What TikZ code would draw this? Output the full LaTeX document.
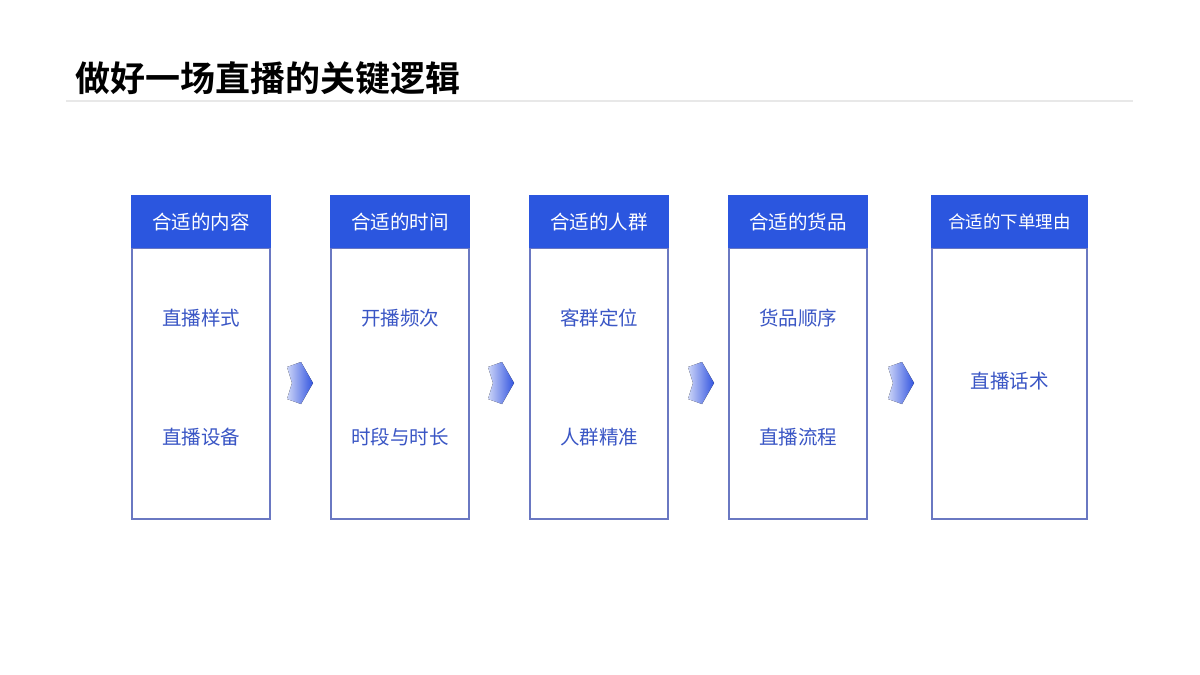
\documentclass[tikz,border=0pt]{standalone}
\usepackage{fontspec}
\newfontfamily\cjk{Noto Sans CJK SC}
\newfontfamily\cjkb{Noto Sans CJK SC Bold}
\definecolor{hdr}{HTML}{2B56DF}
\definecolor{brd}{HTML}{6A78C2}
\definecolor{bodytxt}{HTML}{3A56C5}
\definecolor{arr}{HTML}{3355E0}
\begin{document}
\begin{tikzpicture}[x=1pt,y=-1pt,
  hdrbox/.style={fill=hdr,draw=hdr},
  bodybox/.style={draw=brd,line width=1.1pt,fill=white},
  hdrtxt/.style={text=white,font=\cjk\fontsize{19.5}{22}\selectfont,inner sep=0},
  bodytext/.style={text=bodytxt,font=\cjk\fontsize{19.5}{22}\selectfont,inner sep=0},
  chev/.style={left color=arr!25,right color=arr,draw=none}]
\useasboundingbox (0,0) rectangle (1200,675);
\fill[white] (0,0) rectangle (1200,675);
% title
\node[anchor=west,inner sep=0,font=\cjkb\fontsize{35}{39}\selectfont] (title) at (75,78) {做好一场直播的关键逻辑};
\draw[gray!18,line width=1.5pt] (66,101) -- (1133,101);
% columns
\foreach \l/\r/\n in {132/270/1,331/469/2,530/668/3,729/867/4,932/1087/5}{
  \draw[bodybox] (\l,248) rectangle (\r,519);
  \fill[hdr] (\l-0.55,195) rectangle (\r+0.55,248);
  \coordinate (c\n) at ({(\l+\r)/2},0);
}
\node[hdrtxt] (h1) at (c1 |- 0,222) {合适的内容};
\node[hdrtxt] (h2) at (c2 |- 0,222) {合适的时间};
\node[hdrtxt] (h3) at (c3 |- 0,222) {合适的人群};
\node[hdrtxt] (h4) at (c4 |- 0,222) {合适的货品};
\node[hdrtxt,font=\cjk\fontsize{17.5}{20}\selectfont] (h5) at (c5 |- 0,222) {合适的下单理由};
\node[bodytext] (a1) at (c1 |- 0,318) {直播样式};
\node[bodytext] (b1) at (c1 |- 0,437) {直播设备};
\node[bodytext] (a2) at (c2 |- 0,318) {开播频次};
\node[bodytext] (b2) at (c2 |- 0,437) {时段与时长};
\node[bodytext] (a3) at (c3 |- 0,318) {客群定位};
\node[bodytext] (b3) at (c3 |- 0,437) {人群精准};
\node[bodytext] (a4) at (c4 |- 0,318) {货品顺序};
\node[bodytext] (b4) at (c4 |- 0,437) {直播流程};
\node[bodytext] (a5) at (c5 |- 0,381) {直播话术};
% chevrons
\foreach \x in {287,488,688,888}{
  \fill[chev] (\x,367) -- (\x+14,362) -- (\x+26,383) -- (\x+14,404) -- (\x,399) -- (\x+5,383) -- cycle;
}
\end{tikzpicture}
\end{document}
